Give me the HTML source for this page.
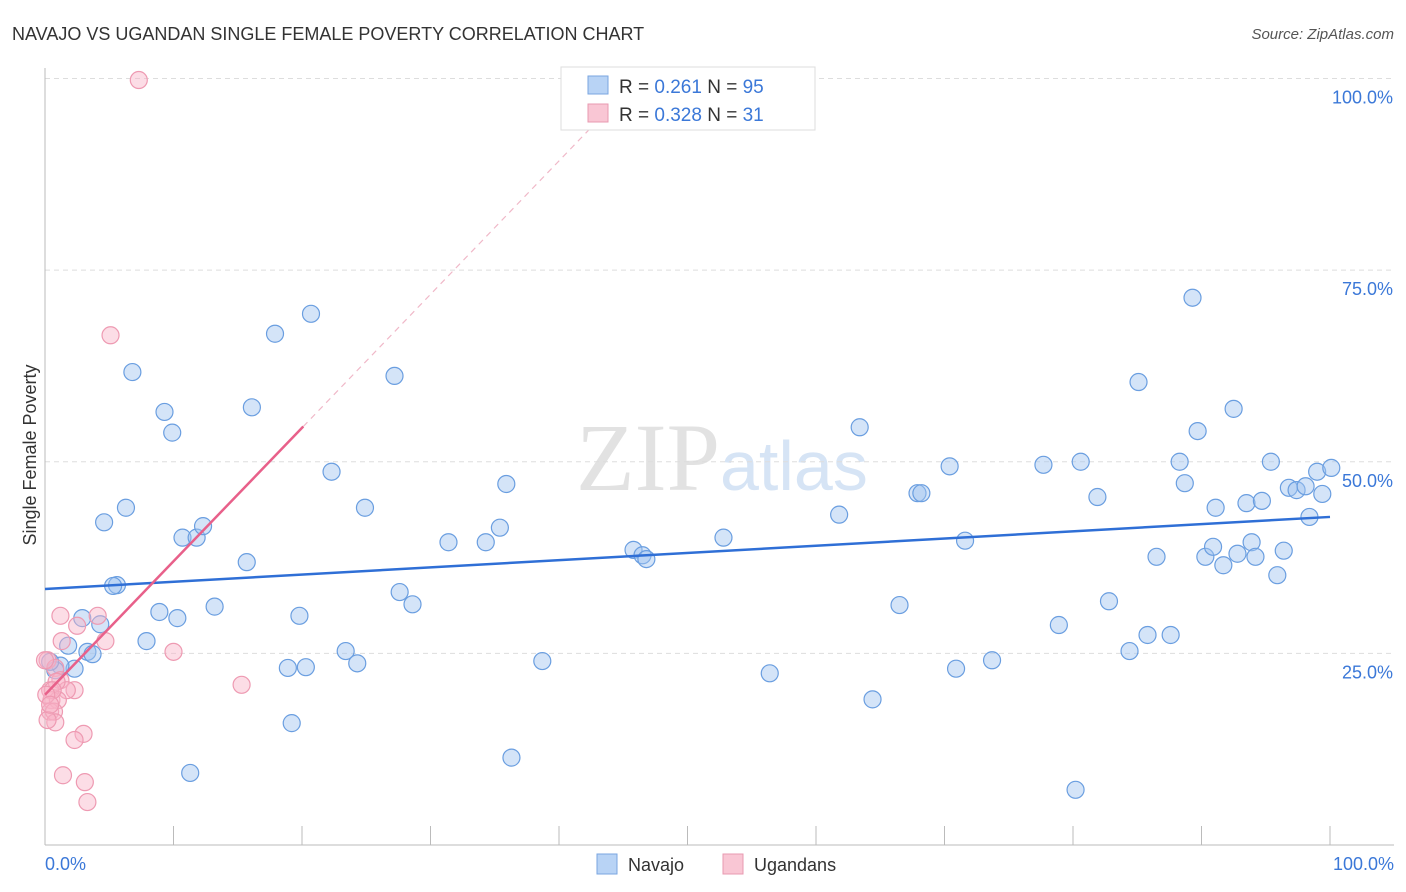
<!DOCTYPE html>
<html><head><meta charset="utf-8"><style>
body{margin:0;background:#fff;font-family:"Liberation Sans",sans-serif;}
svg{display:block}
</style></head><body>
<svg id="c" width="1406" height="892" xmlns="http://www.w3.org/2000/svg">
<text x="12" y="40" font-size="18" fill="#333">NAVAJO VS UGANDAN SINGLE FEMALE POVERTY CORRELATION CHART</text>
<text x="1394" y="39" font-size="15" fill="#555" font-style="italic" text-anchor="end">Source: ZipAtlas.com</text>
<text x="720" y="490" font-size="96" fill="#e2e2e2" text-anchor="end" font-family="Liberation Serif">ZIP</text>
<text x="720" y="490" font-size="70" fill="#d6e4f5">atlas</text>
<g id="grid"></g>
<line x1="45" y1="68" x2="45" y2="845" stroke="#bbb"/>
<line x1="45" y1="845" x2="1394" y2="845" stroke="#bbb"/>
<text x="36" y="455" font-size="18" fill="#333" transform="rotate(-90 36 455)" text-anchor="middle">Single Female Poverty</text>
<text x="45" y="870" font-size="18" fill="#3b78d8">0.0%</text>
<text x="1394" y="870" font-size="18" fill="#3b78d8" text-anchor="end">100.0%</text>
<g id="pts"></g>
<g id="lines"></g>
<g>
<rect x="561" y="67" width="254" height="63" fill="#fff" stroke="#ddd"/>
<rect x="588" y="76" width="20" height="18" fill="#b8d3f5" stroke="#7aa6e0"/>
<rect x="588" y="104" width="20" height="18" fill="#f9c6d4" stroke="#e89ab0"/>
<text x="619" y="93" font-size="19" fill="#333">R = <tspan fill="#3b78d8">0.261</tspan>   N = <tspan fill="#3b78d8">95</tspan></text>
<text x="619" y="121" font-size="19" fill="#333">R = <tspan fill="#3b78d8">0.328</tspan>   N = <tspan fill="#3b78d8"> 31</tspan></text>
</g>
<g>
<rect x="597" y="854" width="20" height="20" fill="#b8d3f5" stroke="#7aa6e0"/>
<text x="628" y="871" font-size="18" fill="#333">Navajo</text>
<rect x="723" y="854" width="20" height="20" fill="#f9c6d4" stroke="#e89ab0"/>
<text x="754" y="871" font-size="18" fill="#333">Ugandans</text>
</g>
</svg>
<script>
const yTicks=[25,50,75,100];
const yTickLabels=["25.0%","50.0%","75.0%","100.0%"];
const xTicks=[10,20,30,40,50,60,70,80,90,100];
const navajoPx=[[133,372],[165,412],[172,433],[104,522],[126,508],[117,585],[113,586],[82,618],[100,624],[87,652],[93,654],[68,646],[75,669],[60,666],[55,670],[147,641],[160,612],[177,618],[183,538],[197,538],[203,526],[214,607],[190,773],[247,562],[252,407],[275,334],[311,314],[331,472],[299,616],[288,668],[306,667],[292,723],[346,651],[357,663],[365,508],[395,376],[400,592],[413,604],[449,542],[486,542],[500,528],[506,484],[511,758],[542,661],[633,550],[643,555],[647,559],[723,538],[770,673],[839,515],[860,427],[872,699],[899,605],[917,493],[921,493],[949,466],[956,669],[965,541],[992,660],[1043,465],[1059,625],[1075,790],[1081,462],[1098,497],[1109,601],[1130,651],[1138,382],[1148,635],[1156,557],[1171,635],[1180,462],[1185,483],[1198,431],[1193,298],[1205,557],[1213,547],[1216,508],[1223,565],[1233,409],[1238,554],[1246,503],[1252,542],[1256,557],[1262,501],[1271,462],[1277,575],[1284,551],[1289,488],[1296,490],[1305,486],[1310,517],[1317,472],[1322,494],[1331,468],[50,662]];
const ugandanPx=[[139,80],[110,335],[61,616],[98,616],[77,626],[105,641],[173,652],[242,685],[62,641],[48,660],[55,668],[60,680],[50,690],[75,690],[67,690],[57,682],[52,700],[58,700],[50,712],[54,712],[55,722],[84,734],[75,740],[63,775],[85,782],[88,802],[48,720],[53,690],[46,695],[50,705],[45,660]];
// converted to data values (percent)
const navajoX=navajoPx.map(p=>+((p[0]-45)/12.85).toFixed(1));
const navajoY=navajoPx.map(p=>+((845-p[1])/7.665).toFixed(1));
const ugandanX=ugandanPx.map(p=>+((p[0]-45)/12.85).toFixed(1));
const ugandanY=ugandanPx.map(p=>+((845-p[1])/7.665).toFixed(1));
const navajoTrend=[33.4,42.8];       // y at x=0 and x=100
const ugandanTrend=[19.6,54.6,20.1]; // y at x=0, y at x end, x end
const X=v=>45+v*12.85, Y=v=>845-v*7.665;
const NS="http://www.w3.org/2000/svg";
function mk(t,a,p){const e=document.createElementNS(NS,t);for(const k in a)e.setAttribute(k,a[k]);p.appendChild(e);return e;}
const grid=document.getElementById('grid');
yTicks.forEach((v,i)=>{
 const l=mk('line',{x1:45,x2:1394,y1:Y(v),y2:Y(v),stroke:'#ddd','stroke-dasharray':'5,4'},grid);
 
 
 const t=mk('text',{x:1393,y:Y(v)+25,'font-size':18,fill:'#3b78d8','text-anchor':'end'},grid);
 t.textContent=yTickLabels[i];
 
 
});
xTicks.forEach(v=>{
 const l=mk('line',{x1:X(v),x2:X(v),y1:826,y2:845,stroke:'#bbb'},grid);
 
 
});
const pts=document.getElementById('pts');
navajoX.forEach((x,i)=>{
 const c=mk('circle',{cx:X(x),cy:Y(navajoY[i]),r:8.5,fill:'rgba(160,196,240,0.45)',stroke:'#6a9ee0','stroke-width':1.2},pts);
 
 
});
ugandanX.forEach((x,i)=>{
 const c=mk('circle',{cx:X(x),cy:Y(ugandanY[i]),r:8.5,fill:'rgba(248,180,200,0.45)',stroke:'#ee9ab2','stroke-width':1.2},pts);
 
 
});
const lines=document.getElementById('lines');
const bl=mk('line',{x1:X(0),y1:Y(navajoTrend[0]),x2:X(100),y2:Y(navajoTrend[1]),stroke:'#2f6fd6','stroke-width':2.5},lines);


const slope=(ugandanTrend[1]-ugandanTrend[0])/ugandanTrend[2];
const xTop=(100-ugandanTrend[0])/slope;
const pd=mk('line',{x1:X(ugandanTrend[2]),y1:Y(ugandanTrend[1]),x2:X(xTop),y2:Y(100),stroke:'#f0b8c8','stroke-width':1.2,'stroke-dasharray':'6,5'},lines);


const pl=mk('line',{x1:X(0),y1:Y(ugandanTrend[0]),x2:X(ugandanTrend[2]),y2:Y(ugandanTrend[1]),stroke:'#e8608a','stroke-width':2.5},lines);


</script>
</body></html>
